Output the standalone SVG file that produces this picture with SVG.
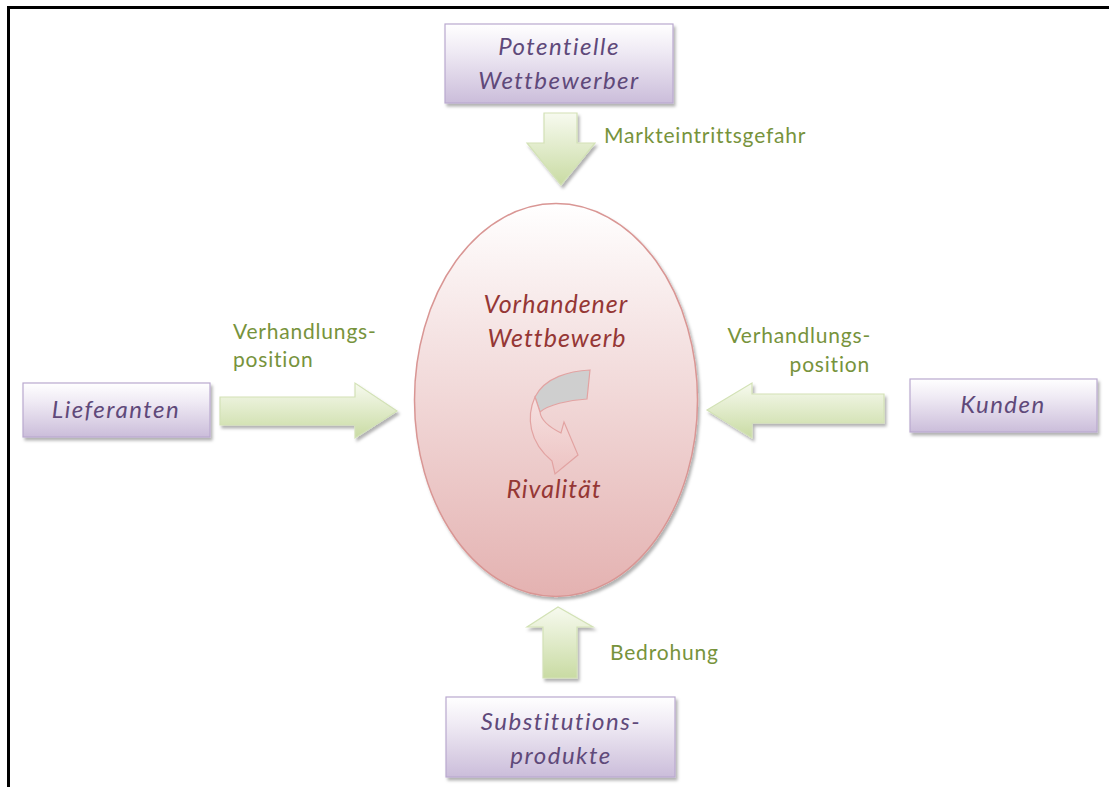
<svg xmlns="http://www.w3.org/2000/svg" width="1109" height="787" viewBox="0 0 1109 787">
  <defs>
    <linearGradient id="boxFill" x1="0" y1="0" x2="0" y2="1">
      <stop offset="0" stop-color="#FFFFFF"/>
      <stop offset="0.35" stop-color="#EFEAF4"/>
      <stop offset="1" stop-color="#CBBDDA"/>
    </linearGradient>
    <linearGradient id="arrowFillV" x1="0" y1="0" x2="0" y2="1">
      <stop offset="0" stop-color="#F7FAEF"/>
      <stop offset="1" stop-color="#C9DBA3"/>
    </linearGradient>
    <linearGradient id="arrowFillVUp" x1="0" y1="1" x2="0" y2="0">
      <stop offset="0" stop-color="#C9DBA3"/>
      <stop offset="1" stop-color="#F7FAEF"/>
    </linearGradient>
    <linearGradient id="arrowFillH" x1="0" y1="0" x2="0" y2="1">
      <stop offset="0" stop-color="#F7FAEF"/>
      <stop offset="1" stop-color="#C9DBA3"/>
    </linearGradient>
    <linearGradient id="ellFill" x1="0" y1="0" x2="0" y2="1">
      <stop offset="0" stop-color="#FFFFFF"/>
      <stop offset="0.3" stop-color="#F6E6E6"/>
      <stop offset="1" stop-color="#E4B2B1"/>
    </linearGradient>
    <linearGradient id="curlFill" x1="0" y1="0" x2="0" y2="1">
      <stop offset="0" stop-color="#F6E1E1"/>
      <stop offset="1" stop-color="#EDC3C2"/>
    </linearGradient>
    <filter id="shadow" x="-10%" y="-10%" width="125%" height="130%">
      <feDropShadow dx="2" dy="3" stdDeviation="1.5" flood-color="#000000" flood-opacity="0.3"/>
    </filter>
  </defs>
  <style>
    .box { fill: url(#boxFill); stroke: #B9A9CF; stroke-width: 1.2; filter: url(#shadow); }
    .boxText { font-family: Lato, "Open Sans", sans-serif; font-style: italic; font-size: 24px; letter-spacing: 1.5px; fill: #5F497A; text-anchor: middle; }
    .arrow { stroke: #D3E2B6; stroke-width: 1.2; filter: url(#shadow); }
    .label { font-family: Lato, "Open Sans", sans-serif; font-size: 21px; letter-spacing: 0.8px; fill: #77933C; }
    .coreText { font-family: Lato, "Open Sans", sans-serif; font-style: italic; font-size: 25px; letter-spacing: 1px; fill: #953735; text-anchor: middle; }
  </style>

  <rect x="0" y="0" width="1109" height="787" fill="#FFFFFF"/>

  <!-- page frame -->
  <path d="M8.5,787 V7.5 H1109" fill="none" stroke="#000000" stroke-width="3"/>

  <!-- central rivalry ellipse -->
  <g id="node-rivalitaet">
    <ellipse cx="556" cy="400" rx="141.5" ry="196.5" fill="url(#ellFill)" stroke="#D99694" stroke-width="1.5" filter="url(#shadow)"/>
    <text class="coreText" x="556" y="313">Vorhandener</text>
    <text class="coreText" x="557" y="347">Wettbewerb</text>
    <!-- twisted curl arrow -->
    <path d="M540,412 C548,405 568,400 587,399 L590,370 C570,371 545,377 535,397 Z" fill="#CFCFCF" stroke="#E2A3A2" stroke-width="1.2"/>
    <path d="M535,397 C526,417 529,442 552,461 L555,474 L578,455 L564,422 L561,433 C551,428 541,421 540,412 Z" fill="url(#curlFill)" stroke="#E2A3A2" stroke-width="1.2"/>
    <text class="coreText" x="554" y="498">Rivalität</text>
  </g>

  <!-- outer forces -->
  <g id="node-potentielle-wettbewerber">
    <rect class="box" x="445" y="24" width="228" height="79"/>
    <text class="boxText" x="559" y="55">Potentielle</text>
    <text class="boxText" x="559" y="89">Wettbewerber</text>
  </g>

  <g id="node-lieferanten">
    <rect class="box" x="23" y="383" width="187" height="54"/>
    <text class="boxText" x="116" y="418">Lieferanten</text>
  </g>

  <g id="node-kunden">
    <rect class="box" x="910" y="379" width="187" height="53"/>
    <text class="boxText" x="1003" y="413">Kunden</text>
  </g>

  <g id="node-substitutionsprodukte">
    <rect class="box" x="446" y="697" width="229" height="80"/>
    <text class="boxText" x="561" y="730">Substitutions-</text>
    <text class="boxText" x="561" y="764">produkte</text>
  </g>

  <!-- block arrows pointing at the centre -->
  <g id="connectors">
    <path class="arrow" fill="url(#arrowFillV)" d="M544,113 H577 V143 H595 L561,185 L527,143 H544 Z"/>
    <path class="arrow" fill="url(#arrowFillH)" d="M220,397 H355 V383 L397,411 L355,438 V425 H220 Z"/>
    <path class="arrow" fill="url(#arrowFillH)" d="M884,394 H752 V383 L707,410 L752,438 V423 H884 Z"/>
    <path class="arrow" fill="url(#arrowFillVUp)" d="M543,678 H577 V627 H593 L558,607 L527,627 H543 Z"/>
  </g>

  <!-- arrow labels -->
  <g id="labels">
    <text class="label" x="604" y="143">Markteintrittsgefahr</text>
    <text class="label" x="233" y="339">Verhandlungs-</text>
    <text class="label" x="233" y="367">position</text>
    <text class="label" x="871" y="343" text-anchor="end">Verhandlungs-</text>
    <text class="label" x="870" y="372" text-anchor="end">position</text>
    <text class="label" x="610" y="660">Bedrohung</text>
  </g>
</svg>
